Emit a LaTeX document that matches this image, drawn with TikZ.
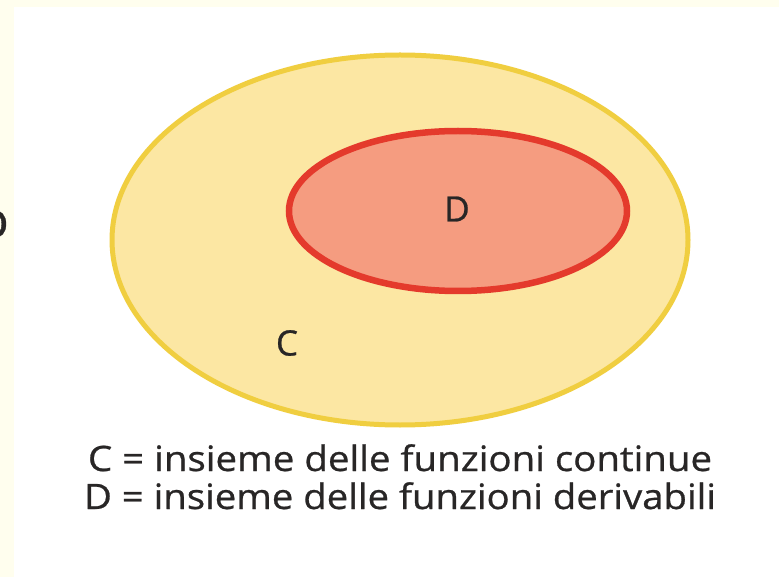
\documentclass[tikz,border=0pt]{standalone}
\usepackage{graphicx}
\usepackage{fontspec}
\setmainfont{Open Sans}
\newfontfamily\captfont{Open Sans}[BoldFont={Open Sans},BoldFeatures={FakeBold=0.7}]
\definecolor{cream}{RGB}{255,254,238}
\definecolor{outerfill}{RGB}{252,231,163}
\definecolor{outerline}{RGB}{240,206,64}
\definecolor{innerfill}{RGB}{245,156,128}
\definecolor{innerline}{RGB}{228,58,44}
\definecolor{txt}{RGB}{40,38,38}
\begin{document}
\begin{tikzpicture}[x=1pt,y=-1pt,
  lbl/.style={text=txt,font=\captfont\bfseries\fontsize{35}{37}\selectfont,inner sep=0pt},
  capt/.style={text=txt,font=\captfont\bfseries\fontsize{35}{38}\selectfont,inner sep=0pt,anchor=base}]
\useasboundingbox (0,0) rectangle (779,577);
\clip (0,0) rectangle (779,577);
\fill[white] (0,0) rectangle (779,577);
\fill[cream] (0,0) rectangle (779,7);
\fill[cream] (0,0) rectangle (14,577);
\node[text=txt,font=\captfont\bfseries\fontsize{50}{52}\selectfont,inner sep=0pt,anchor=east] (frag) at (9,224) {o};
\draw[outerline,line width=5pt,fill=outerfill] (400,240) ellipse [x radius=288,y radius=185];
\node[lbl] (C) at (287,343) {C};
\draw[innerline,line width=6.5pt,fill=innerfill] (458,211) ellipse [x radius=169,y radius=80];
\node[lbl] (D) at (457,209) {D};
\node[capt] (cap1) at (400,471) {\resizebox{624pt}{\height}{C = insieme delle funzioni continue}};
\node[capt] (cap2) at (400,509) {\resizebox{632pt}{\height}{D = insieme delle funzioni derivabili}};
\end{tikzpicture}
\end{document}
